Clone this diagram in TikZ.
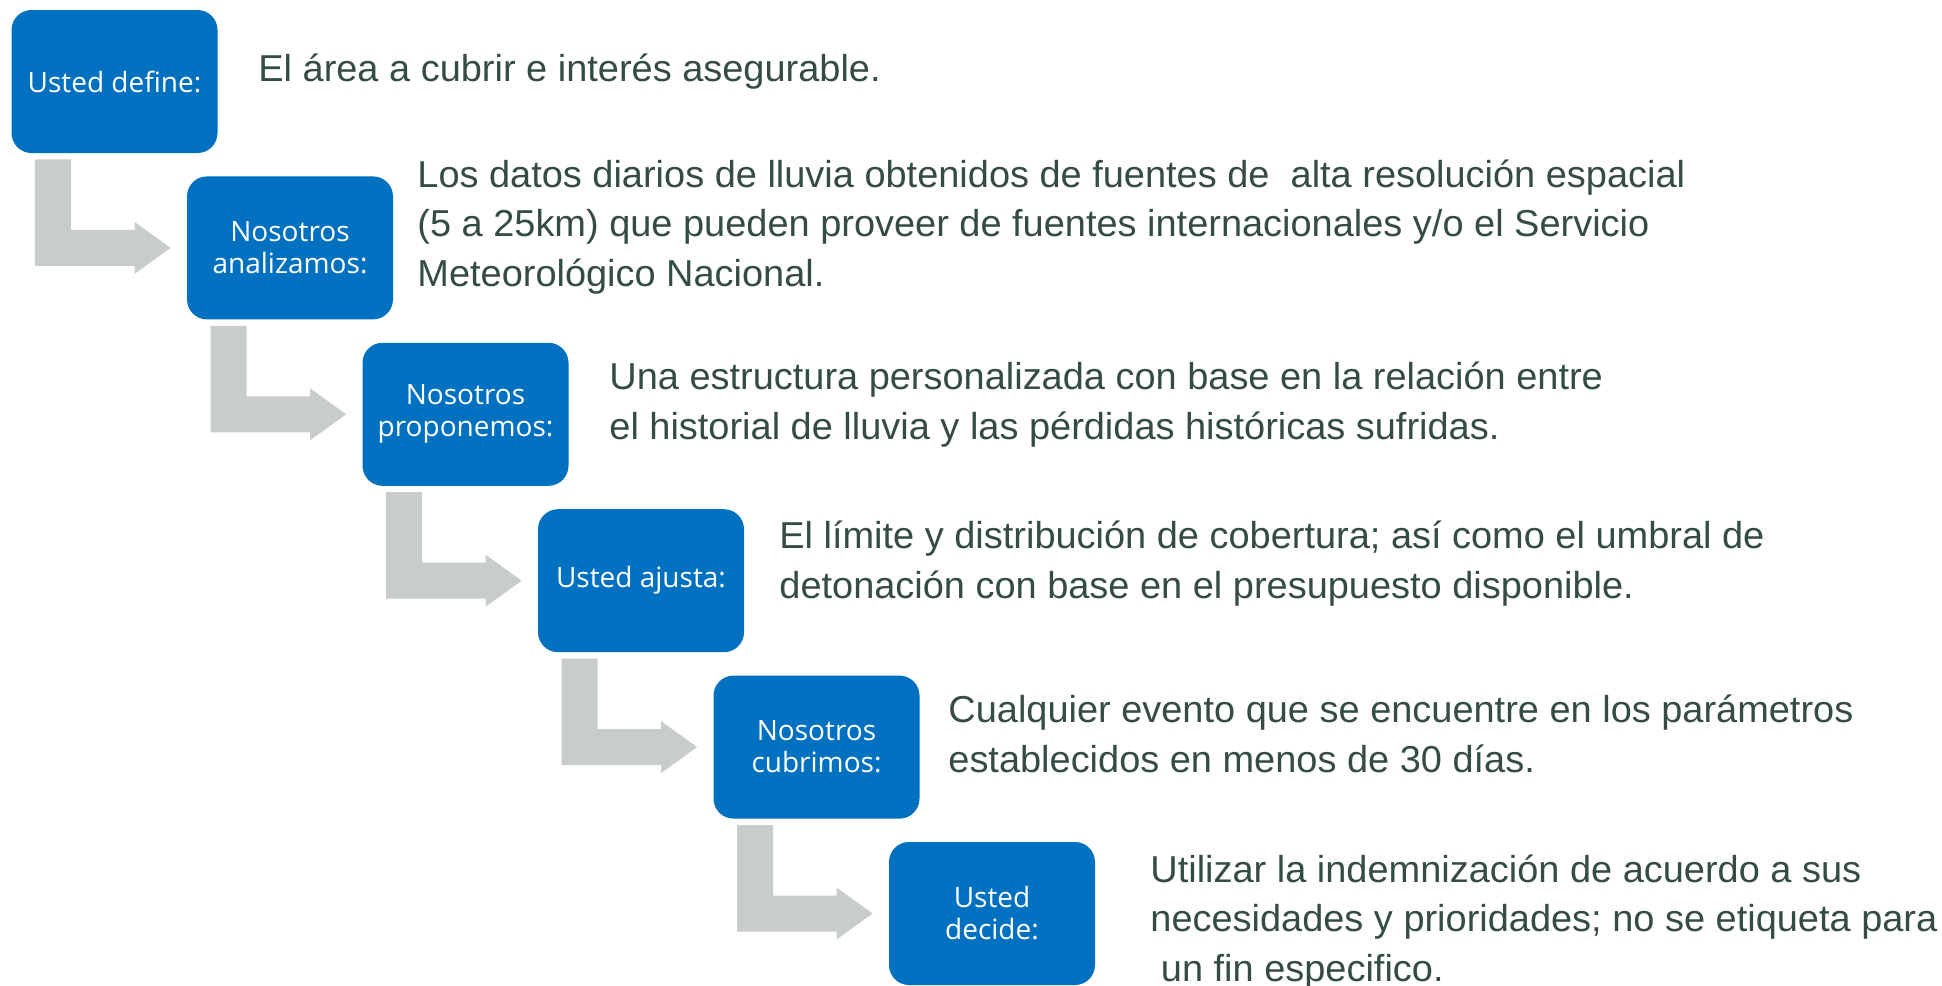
\documentclass[tikz,border=0pt]{standalone}
\usepackage{fontspec}
\setmainfont{Open Sans}
\newfontfamily\descfont[FakeStretch=1.012]{Liberation Sans}
\usepackage{tikz}
\usetikzlibrary{positioning,calc}
\definecolor{stepblue}{RGB}{0,112,192}
\definecolor{flowgrey}{RGB}{200,204,202}
\definecolor{desctext}{RGB}{52,76,68}
\tikzset{
  % --- the blue step boxes ---------------------------------------------------
  stepbox/.style={rectangle,rounded corners=10pt,fill=stepblue,text=white,
                  minimum width=103pt,minimum height=71.5pt,inner sep=2pt,
                  align=center,font=\fontsize{14}{16}\selectfont},
  % --- the text beside each step (anchored on its last line) -----------------
  desc/.style={anchor=base west,align=left,inner sep=0pt,text=desctext,
               font=\descfont\fontsize{18.75}{24.6}\selectfont},
  % --- grey bent arrows between steps ----------------------------------------
  flow/.style={fill=flowgrey},
}
% bent arrow: down from under step #1, then right into step #2
\newcommand{\bentflow}[2]{%
  \coordinate (#1-top) at ($(#1.south west)+(24,6)$);
  \coordinate (#1-tip) at ($(#2.west)+(-16,0)$);
  \fill[flow] (#1-top) -- ++(36,0) |- ($(#1-tip)+(-36,-18)$) -- ++(0,-8)
              -- (#1-tip) -- ++(-36,26) -- ++(0,-8) -| (#1-top) -- cycle;
}

\begin{document}
\begin{tikzpicture}[x=0.5pt, y=-0.5pt]
  \def\dx{175.5}        % step shift, right
  \def\dy{166.4}        % step shift, down
  \useasboundingbox (0,0) rectangle (1942,985);

  \foreach \i/\lbl in {1/{Usted define:},
                       2/{Nosotros\\analizamos:},
                       3/{Nosotros\\proponemos:},
                       4/{Usted ajusta:},
                       5/{Nosotros\\cubrimos:},
                       6/{Usted\\decide:}}
  {
    \node[stepbox] (s\i) at ({114.5+(\i-1)*\dx},{81.5+(\i-1)*\dy}) {\lbl};
  }

  \foreach \a/\b in {s1/s2,s2/s3,s3/s4,s4/s5,s5/s6}{
    \bentflow{\a}{\b}
  }

  \node[desc] (t1) at (258,81) {El área a cubrir e interés asegurable.};
  \node[desc] (t2) at (417,286) {Los datos diarios de lluvia obtenidos de fuentes de\ \ alta resolución espacial\\
    (5 a 25km) que pueden proveer de fuentes internacionales y/o el Servicio\\
    Meteorológico Nacional.};
  \node[desc] (t3) at (609,439) {Una estructura personalizada con base en la relación entre\\
    el historial de lluvia y las pérdidas históricas sufridas.};
  \node[desc] (t4) at (779,598) {El límite y distribución de cobertura; así como el umbral de\\
    detonación con base en el presupuesto disponible.};
  \node[desc] (t5) at (948,772) {Cualquier evento que se encuentre en los parámetros\\
    establecidos en menos de 30 días.};
  \node[desc] (t6) at (1150,981) {Utilizar la indemnización de acuerdo a sus\\
    necesidades y prioridades; no se etiqueta para\\
    \ un fin especifico.};
\end{tikzpicture}
\end{document}
